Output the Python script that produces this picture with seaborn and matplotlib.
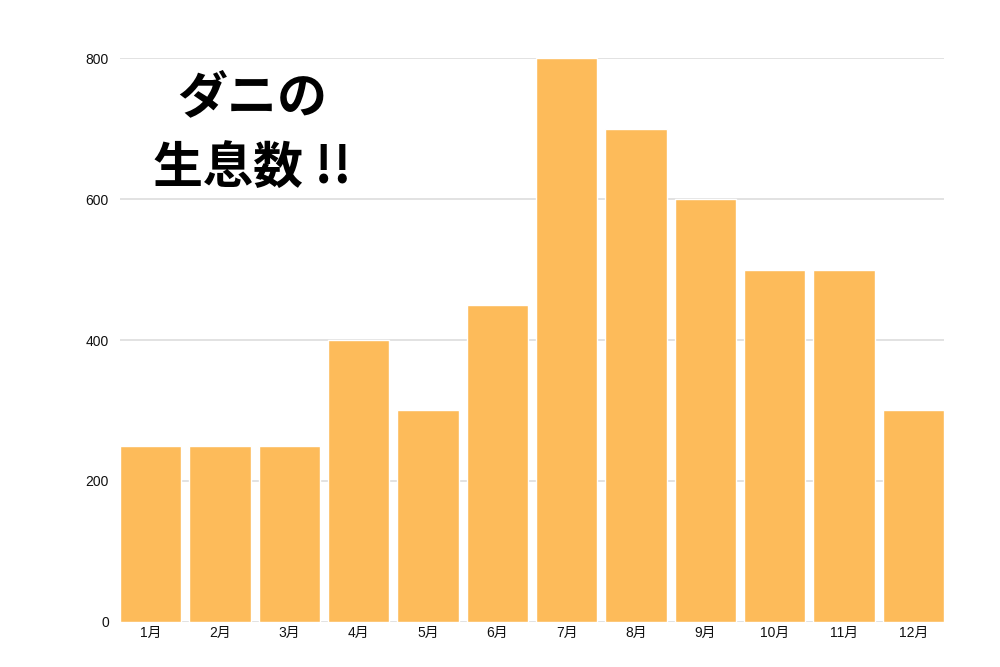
import pandas as pd
import matplotlib.pyplot as plt
import seaborn as sns

# monthly counts
months = ['1月', '2月', '3月', '4月', '5月', '6月', '7月', '8月', '9月', '10月', '11月', '12月']
counts = [250, 250, 250, 400, 300, 450, 800, 700, 600, 500, 500, 300]
y_ticks = [0, 200, 400, 600, 800]

df = pd.DataFrame({'month': months, 'count': counts})

sns.set_theme(style='white')
plt.rcParams['font.family'] = ['Liberation Sans', 'Noto Sans CJK JP', 'DejaVu Sans']

fig = plt.figure(figsize=(10, 6.67), dpi=100)
ax = fig.add_axes([0.12, 0.0675, 0.824, 0.8455])

bar_w = 0.885
sns.barplot(x='month', y='count', data=df, color='#FDBB5A', saturation=1,
            width=bar_w, ax=ax, zorder=3)

ax.set_ylim(0, 800)
ax.set_xlim(-bar_w / 2, len(months) - 1 + bar_w / 2)
ax.set_yticks(y_ticks)
ax.yaxis.grid(True, color='#dddddd', linewidth=1.2, zorder=0)
ax.set_xlabel('')
ax.set_ylabel('')
for s in ax.spines.values():
    s.set_visible(False)
ax.tick_params(axis='both', length=0, labelsize=10, colors='#111111')
ax.tick_params(axis='x', pad=3)
ax.tick_params(axis='y', pad=8)

# big title inside the chart
fig.text(0.252, 0.8, 'ダニの\n生息数 !!', ha='center', va='center', fontsize=36,
         fontweight='bold', color='black', linespacing=1.5,
         family=['Noto Sans CJK JP', 'DejaVu Sans'])

plt.savefig('out.png', dpi=100)
